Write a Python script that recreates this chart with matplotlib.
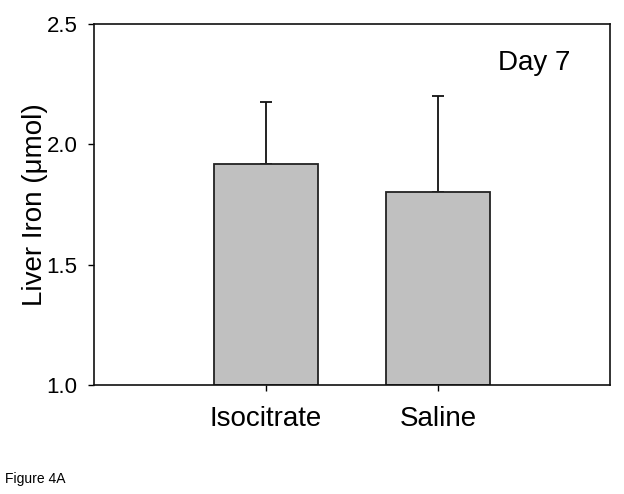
import matplotlib
matplotlib.use('Agg')
import matplotlib.pyplot as plt
import numpy as np

plt.rcParams['font.family'] = ['Liberation Sans', 'DejaVu Sans']

groups = ["Isocitrate", "Saline"]
means = [1.92, 1.80]
errs = [0.255, 0.40]
yticks = [1.0, 1.5, 2.0, 2.5]

fig = plt.figure(figsize=(6.24, 4.94), dpi=100)
ax = fig.add_axes([0.1506, 0.2206, 0.827, 0.7308])

x = np.arange(1, len(groups) + 1)
ax.bar(x, np.array(means) - 1.0, bottom=1.0, width=0.6,
       color='#c0c0c0', edgecolor='#222222', linewidth=1.3, zorder=2)
# upper error only; the lower cap hides under the bar edge
ax.errorbar(x, means, yerr=[np.zeros(len(errs)), errs], fmt='none',
            ecolor='#111111', elinewidth=1.3, capsize=4, capthick=1.3, zorder=1)

ax.set_xlim(0, 3)
ax.set_ylim(1.0, 2.5)
ax.set_xticks(x)
ax.set_xticklabels(groups, fontsize=20)
ax.set_yticks(yticks)
ax.set_yticklabels(["%.1f" % v for v in yticks], fontsize=16)
ax.tick_params(axis='x', direction='out', length=4, width=1, pad=11)
ax.tick_params(axis='y', direction='out', length=4, width=1, pad=8)
for s in ax.spines.values():
    s.set_linewidth(1.2)
    s.set_color('#111111')

ax.set_ylabel("Liver Iron (\u03bcmol)", fontsize=20, labelpad=-1)
ax.text(0.783, 0.873, "Day 7", transform=ax.transAxes, fontsize=20,
        ha='left', va='baseline')

fig.text(5 / 624, 1 - 483 / 494, "Figure 4A", fontsize=10,
         ha='left', va='baseline')

plt.savefig("out.png", dpi=100)
